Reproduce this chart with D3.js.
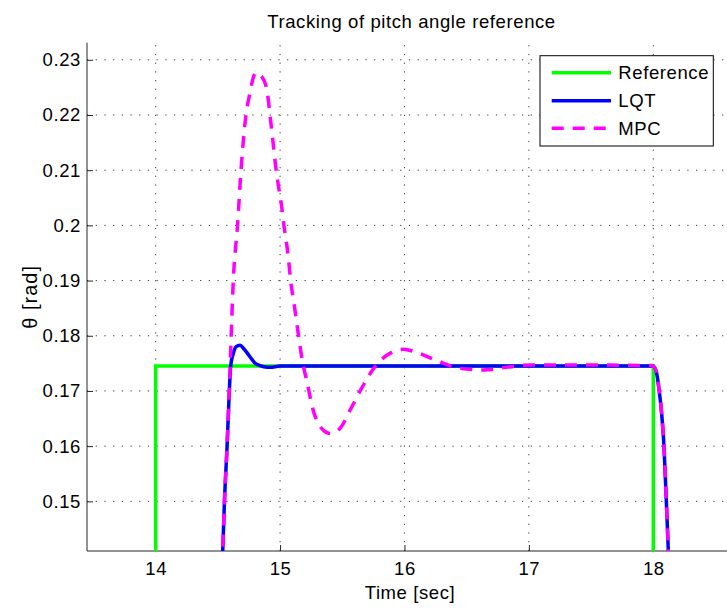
<!DOCTYPE html>
<html>
<head>
<meta charset="utf-8">
<script src="https://cdn.jsdelivr.net/npm/d3@7"></script>
<style>
  html, body { margin: 0; padding: 0; background: #fff; }
  svg { display: block; }
  text { font-family: "Liberation Sans", Arial, Helvetica, sans-serif; fill: #000; letter-spacing: 0.6px; }
</style>
</head>
<body>
<svg id="chart" width="727" height="610"></svg>
<script>
// Pitch-angle reference step and the two controller responses (time in s, angle in rad)
const refTime = [13.3, 14.0, 14.0, 18.0, 18.0, 18.8];
const refTheta = [0, 0, 0.17453, 0.17453, 0, 0];

const lqtTime = [14.45, 14.50, 14.539, 14.553, 14.574, 14.592, 14.603, 14.624, 14.645, 14.678,
  14.71, 14.758, 14.80, 14.838, 14.88, 14.92, 15.0, 15.5, 16.0, 16.5, 17.0, 17.5, 17.98,
  18.0, 18.012, 18.027, 18.048, 18.067, 18.086, 18.105, 18.121, 18.15];
const lqtTheta = [0.10, 0.121, 0.141, 0.150, 0.160, 0.170, 0.1745, 0.1768, 0.1780, 0.1783,
  0.1776, 0.1762, 0.1750, 0.1746, 0.17435, 0.1743, 0.1745, 0.1745, 0.1745, 0.1745, 0.1745, 0.1745, 0.1745,
  0.1745, 0.1742, 0.1732, 0.1700, 0.1660, 0.1600, 0.1500, 0.1410, 0.1200];

const mpcTime = [14.45, 14.50, 14.539, 14.553, 14.574, 14.592, 14.607, 14.624, 14.658, 14.686,
  14.726, 14.758, 14.785, 14.812, 14.845, 14.892, 14.919, 14.940, 14.959, 14.986, 15.013,
  15.031, 15.066, 15.085, 15.112, 15.146, 15.178, 15.219, 15.259, 15.334, 15.40, 15.481,
  15.562, 15.656, 15.763, 15.897, 15.99, 16.084, 16.259, 16.446, 16.633, 16.822, 17.009,
  17.5, 17.98, 18.0, 18.012, 18.027, 18.048, 18.067, 18.086, 18.105, 18.121, 18.15];
const mpcTheta = [0.10, 0.121, 0.141, 0.150, 0.160, 0.170, 0.180, 0.190, 0.200, 0.210,
  0.220, 0.2240, 0.2268, 0.2277, 0.2272, 0.2248, 0.2200, 0.2158, 0.2118, 0.2073, 0.2034,
  0.2000, 0.1943, 0.1900, 0.1859, 0.1804, 0.1756, 0.1714, 0.1671, 0.1632, 0.1623, 0.1632,
  0.1665, 0.1705, 0.1744, 0.1770, 0.17755, 0.1771, 0.1755, 0.1741, 0.1738, 0.1743, 0.1747,
  0.1747, 0.1746, 0.1745, 0.1742, 0.1732, 0.1700, 0.1660, 0.1600, 0.1500, 0.1410, 0.1200];

const xTicks = [14, 15, 16, 17, 18];
const yTicks = [0.15, 0.16, 0.17, 0.18, 0.19, 0.2, 0.21, 0.22, 0.23];
const yTickLabels = ["0.15", "0.16", "0.17", "0.18", "0.19", "0.2", "0.21", "0.22", "0.23"];

const seriesNames = ["Reference", "LQT", "MPC"];
const seriesColors = ["#00ff00", "#0000ff", "#ff00ff"];

const svg = d3.select("#chart");
const plot = { left: 87, right: 735, top: 42.7, bottom: 551 };
const fontSize = "18.5px";

const x = d3.scaleLinear().domain([13.448, 18.657]).range([plot.left, plot.right]);
const y = d3.scaleLinear().domain([0.141, 0.2331]).range([plot.bottom, plot.top]);

svg.append("defs").append("clipPath").attr("id", "plotClip")
  .append("rect")
  .attr("x", plot.left).attr("y", plot.top)
  .attr("width", plot.right - plot.left).attr("height", plot.bottom - plot.top);

// dotted grid
const grid = svg.append("g").attr("class", "grid");
grid.selectAll("line.gx").data(xTicks).join("line")
  .attr("x1", d => x(d)).attr("x2", d => x(d))
  .attr("y1", plot.bottom).attr("y2", plot.top);
grid.selectAll("line.gy").data(yTicks).join("line")
  .attr("x1", plot.left).attr("x2", plot.right)
  .attr("y1", d => y(d)).attr("y2", d => y(d));
grid.selectAll("line")
  .attr("stroke", "#333").attr("stroke-width", 1)
  .attr("stroke-dasharray", "1.2,7.5");

// axes with inward ticks
const xAxis = svg.append("g")
  .attr("transform", `translate(0,${plot.bottom})`)
  .call(d3.axisBottom(x).tickValues(xTicks).tickFormat(d3.format("d"))
    .tickSizeInner(-6).tickSizeOuter(0).tickPadding(11));
const yAxis = svg.append("g")
  .attr("transform", `translate(${plot.left},0)`)
  .call(d3.axisLeft(y).tickValues(yTicks).tickFormat((d, i) => yTickLabels[i])
    .tickSizeInner(-6).tickSizeOuter(0).tickPadding(6));

[xAxis, yAxis].forEach(g => {
  g.attr("font-size", null).attr("font-family", null);
  g.selectAll("text").style("font-size", fontSize);
  g.select(".domain").attr("stroke", "#262626");
  g.selectAll(".tick line").attr("stroke", "#262626");
});
yAxis.select(".domain").attr("d", `M0,${plot.top}V${plot.bottom}`);
xAxis.select(".domain").attr("d", `M${plot.left},0H${plot.right}`);

// curves
const lineGen = d3.line().x(d => x(d[0])).y(d => y(d[1]));
const curves = svg.append("g").attr("clip-path", "url(#plotClip)");

curves.append("path")
  .datum(d3.zip(refTime, refTheta))
  .attr("d", lineGen.curve(d3.curveLinear))
  .attr("fill", "none").attr("stroke", seriesColors[0]).attr("stroke-width", 3.5);

curves.append("path")
  .datum(d3.zip(lqtTime, lqtTheta))
  .attr("d", lineGen.curve(d3.curveMonotoneX))
  .attr("fill", "none").attr("stroke", seriesColors[1]).attr("stroke-width", 3.5);

curves.append("path")
  .datum(d3.zip(mpcTime, mpcTheta))
  .attr("d", lineGen.curve(d3.curveMonotoneX))
  .attr("fill", "none").attr("stroke", seriesColors[2]).attr("stroke-width", 3.5)
  .attr("stroke-dasharray", "12,9");

// title and axis labels
svg.append("text")
  .attr("x", 411.5).attr("y", 28.3)
  .attr("text-anchor", "middle").style("font-size", fontSize)
  .text("Tracking of pitch angle reference");
svg.append("text")
  .attr("x", 410).attr("y", 599)
  .attr("text-anchor", "middle").style("font-size", fontSize)
  .text("Time [sec]");
svg.append("text")
  .attr("transform", `translate(37,${(plot.top + plot.bottom) / 2}) rotate(-90)`)
  .attr("text-anchor", "middle").style("font-size", "20px").style("letter-spacing", "1px")
  .text("θ [rad]");

// legend
const legend = svg.append("g");
legend.append("rect")
  .attr("x", 540).attr("y", 55.7).attr("width", 173.3).attr("height", 90.3)
  .attr("fill", "#fff").attr("stroke", "#000").attr("stroke-width", 1);
const rowY = [72.7, 100.7, 128.3];
seriesNames.forEach((name, i) => {
  legend.append("line")
    .attr("x1", 551.7).attr("x2", 611).attr("y1", rowY[i]).attr("y2", rowY[i])
    .attr("stroke", seriesColors[i]).attr("stroke-width", 3.5)
    .attr("stroke-dasharray", i === 2 ? "12,9" : null);
  legend.append("text")
    .attr("x", 618.3).attr("y", rowY[i]).attr("dy", "0.35em")
    .style("font-size", fontSize)
    .text(name);
});
</script>
</body>
</html>
